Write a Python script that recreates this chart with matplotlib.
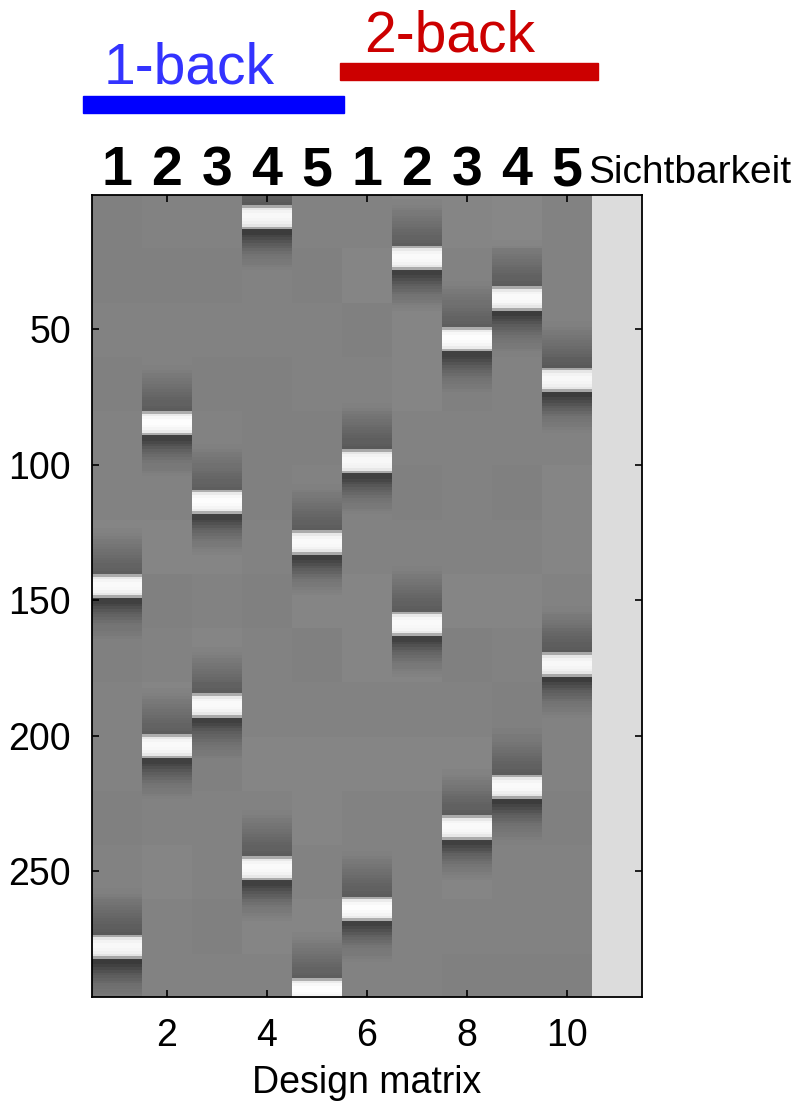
import numpy as np
import matplotlib.pyplot as plt
from matplotlib.transforms import blended_transform_factory
from matplotlib.patches import Rectangle

# design matrix: 10 condition regressors + constant
n_scans = 296
band_rows = [[145, 278], [85, 204], [114, 189], [9, 249], [129, 294],
             [99, 264], [24, 159], [54, 234], [39, 219], [69, 174]]

# grey level around each event (row offset -> value)
kernel_offsets = list(range(-22, 20))
kernel_values = [0.50, 0.49, 0.49, 0.48, 0.47, 0.46, 0.45, 0.44, 0.43, 0.42,
                 0.41, 0.40, 0.39, 0.38, 0.37, 0.37, 0.36, 0.35, 0.66, 0.90,
                 0.95, 0.97, 0.97, 0.96, 0.94, 0.90, 0.66, 0.24, 0.24, 0.27,
                 0.30, 0.33, 0.36, 0.38, 0.40, 0.42, 0.44, 0.45, 0.46, 0.47,
                 0.48, 0.49]
base_level = 0.50

# background grey per block of 20 scans
bg_levels = [
    [0.50, 0.50, 0.51, 0.50, 0.51, 0.51, 0.52, 0.51, 0.50, 0.51, 0.51, 0.50, 0.51, 0.50, 0.49],
    [0.51, 0.50, 0.51, 0.51, 0.52, 0.51, 0.52, 0.50, 0.51, 0.52, 0.51, 0.51, 0.52, 0.51, 0.51],
    [0.51, 0.50, 0.51, 0.50, 0.51, 0.52, 0.52, 0.51, 0.52, 0.51, 0.50, 0.51, 0.51, 0.50, 0.51],
    [0.50, 0.51, 0.51, 0.50, 0.50, 0.50, 0.51, 0.50, 0.51, 0.51, 0.52, 0.51, 0.51, 0.52, 0.51],
    [0.51, 0.50, 0.51, 0.51, 0.50, 0.51, 0.51, 0.52, 0.50, 0.51, 0.52, 0.52, 0.51, 0.52, 0.52],
    [0.51, 0.52, 0.50, 0.51, 0.50, 0.51, 0.51, 0.52, 0.52, 0.51, 0.52, 0.51, 0.51, 0.52, 0.51],
    [0.52, 0.51, 0.52, 0.52, 0.51, 0.50, 0.51, 0.51, 0.52, 0.51, 0.52, 0.51, 0.51, 0.51, 0.51],
    [0.52, 0.51, 0.52, 0.50, 0.51, 0.51, 0.51, 0.52, 0.50, 0.51, 0.52, 0.51, 0.52, 0.51, 0.50],
    [0.53, 0.51, 0.50, 0.51, 0.51, 0.50, 0.51, 0.52, 0.51, 0.50, 0.51, 0.50, 0.51, 0.51, 0.50],
    [0.51, 0.51, 0.51, 0.50, 0.51, 0.52, 0.52, 0.51, 0.50, 0.51, 0.51, 0.50, 0.51, 0.51, 0.50],
]
const_level = 0.86

top_numbers = ['1', '2', '3', '4', '5', '1', '2', '3', '4', '5']
yticks = [50, 100, 150, 200, 250]
xticks = [2, 4, 6, 8, 10]

# build the matrix
X = np.full((n_scans, 11), const_level)
for j in range(10):
    col = np.repeat(bg_levels[j], 20)[:n_scans].astype(float)
    for r in band_rows[j]:
        for off, v in zip(kernel_offsets, kernel_values):
            i = r - 1 + off
            if 0 <= i < n_scans:
                col[i] += v - base_level
    X[:, j] = col

W, H = 801, 1113
fig = plt.figure(figsize=(W / 100, H / 100), dpi=100)
ax = fig.add_axes([92 / W, 1 - 997 / H, 550 / W, 802 / H])

ax.imshow(X, cmap='gray', vmin=0, vmax=1, aspect='auto', interpolation='nearest',
          extent=[0.5, 11.5, n_scans + 0.5, 0.5])
ax.set_xlim(0.5, 11.5)
ax.set_ylim(n_scans + 0.5, 0.5)

ax.set_xticks(xticks)
ax.set_yticks(yticks)
ax.set_xticklabels([str(t) for t in xticks], family='Liberation Sans', fontsize=27)
ax.set_yticklabels([str(t) for t in yticks], family='Liberation Sans', fontsize=27)
ax.tick_params(direction='in', length=5, width=1.2, top=True, right=True, pad=15)
for s in ax.spines.values():
    s.set_linewidth(1.3)
ax.set_xlabel('Design matrix', family='Liberation Sans', fontsize=27, labelpad=8)

# labels above the columns
trans = blended_transform_factory(ax.transData, fig.transFigure)
for k, t in enumerate(top_numbers):
    ax.text(k + 1, 1 - 185 / H, t, transform=trans, ha='center', va='baseline',
            fontsize=40, fontweight='bold', family='Liberation Sans')
fig.text(588 / W, 1 - 183 / H, 'Sichtbarkeit', ha='left', va='baseline',
         fontsize=28, family='Liberation Sans')

# condition bars
fig.patches.append(Rectangle((83 / W, 1 - 113 / H), 261 / W, 17 / H,
                             transform=fig.transFigure, color='#0000ff'))
fig.patches.append(Rectangle((340 / W, 1 - 80 / H), 258 / W, 17 / H,
                             transform=fig.transFigure, color='#cc0000'))
fig.text(189 / W, 1 - 83 / H, '1-back', ha='center', va='baseline',
         fontsize=41, color='#3333ff', family='Liberation Sans')
fig.text(450 / W, 1 - 51 / H, '2-back', ha='center', va='baseline',
         fontsize=41, color='#cc0000', family='Liberation Sans')

fig.savefig('out.png', dpi=100)
